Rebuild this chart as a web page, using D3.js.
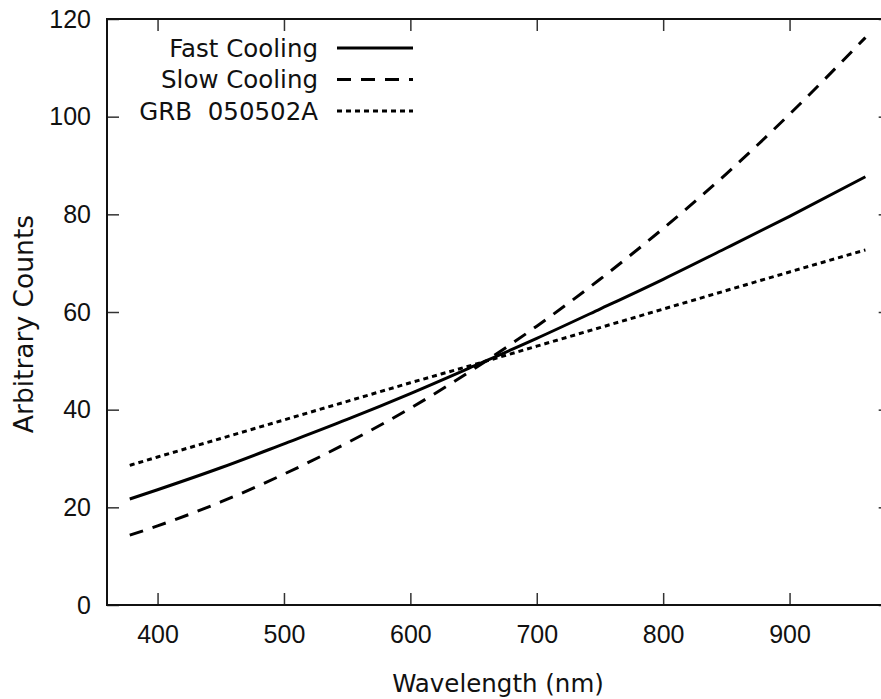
<!DOCTYPE html>
<html>
<head>
<meta charset="utf-8">
<script src="https://cdn.jsdelivr.net/npm/d3@7"></script>
<style>
  body { margin: 0; background: #fff; }
  svg { display: block; font-family: "DejaVu Sans", sans-serif; }
</style>
</head>
<body>
<div id="chart"></div>
<script>
// wavelength samples (nm) and values
const wavelength = [378, 400, 450, 500, 550, 600, 650, 700, 750, 800, 850, 900, 960]
const fastCooling = [21.7, 23.6, 28.1, 33.0, 38.0, 43.3, 48.9, 54.6, 60.6, 66.7, 73.1, 79.6, 87.7]
const slowCooling = [14.3, 16.2, 21.1, 26.8, 33.2, 40.3, 48.3, 57.1, 66.7, 77.1, 88.3, 100.5, 116.2]
const grb050502A = [28.6, 30.3, 34.1, 37.9, 41.7, 45.5, 49.2, 53.0, 56.8, 60.6, 64.4, 68.2, 72.7]

const xTicks = [400, 500, 600, 700, 800, 900]
const yTicks = [0, 20, 40, 60, 80, 100, 120]

const seriesNames = ["Fast Cooling", "Slow Cooling", "GRB  050502A"]
const seriesDash = [null, "14,10", "5,4"]

const W = 881, H = 699
const margin = {left: 107, top: 19}
const width = 620 * 1.264
const height = 586

const svg = d3.select("#chart").append("svg")
  .attr("width", W)
  .attr("height", H)

const g = svg.append("g")
  .attr("transform", "translate(" + margin.left + "," + margin.top + ")")

const x = d3.scaleLinear().domain([360, 980]).range([0, width])
const y = d3.scaleLinear().domain([0, 120]).range([height, 0])

// ticks on all four sides, pointing inward
const axBottom = g.append("g")
  .attr("transform", "translate(0," + height + ")")
  .call(d3.axisBottom(x).tickValues(xTicks).tickSize(-12).tickPadding(20))
const axTop = g.append("g")
  .call(d3.axisTop(x).tickValues(xTicks).tickSize(-12).tickFormat(""))
const axLeft = g.append("g")
  .call(d3.axisLeft(y).tickValues(yTicks).tickSize(-12).tickPadding(16))
const axRight = g.append("g")
  .attr("transform", "translate(" + width + ",0)")
  .call(d3.axisRight(y).tickValues(yTicks).tickSize(-12).tickFormat(""))

;[axBottom, axTop, axLeft, axRight].forEach(a => {
  a.select(".domain").remove()
  a.selectAll(".tick line").attr("stroke", "#333").attr("stroke-width", 1.5)
  a.selectAll("text").attr("fill", "#111").style("font-size", "25px")
})

// frame
g.append("rect")
  .attr("width", width)
  .attr("height", height)
  .attr("fill", "none")
  .attr("stroke", "#111")
  .attr("stroke-width", 2)

// lines
const allSeries = [fastCooling, slowCooling, grb050502A]
const line = d3.line()
  .curve(d3.curveMonotoneX)
  .x(d => x(d[0]))
  .y(d => y(d[1]))

allSeries.forEach((vals, i) => {
  g.append("path")
    .datum(wavelength.map((w, j) => [w, vals[j]]))
    .attr("fill", "none")
    .attr("stroke", "#000")
    .attr("stroke-width", 3)
    .attr("stroke-dasharray", seriesDash[i])
    .attr("d", line)
})

// legend
const legend = svg.append("g")
seriesNames.forEach((name, i) => {
  const ly = 48 + i * 31.5
  legend.append("text")
    .attr("x", 318)
    .attr("y", ly)
    .attr("dy", "0.36em")
    .attr("text-anchor", "end")
    .style("font-size", "24.5px")
    .style("white-space", "pre")
    .attr("fill", "#111")
    .text(name)
  legend.append("line")
    .attr("x1", 337)
    .attr("x2", 413)
    .attr("y1", ly)
    .attr("y2", ly)
    .attr("stroke", "#000")
    .attr("stroke-width", 3)
    .attr("stroke-dasharray", seriesDash[i])
})

// axis titles
svg.append("text")
  .attr("x", 498)
  .attr("y", 692)
  .attr("text-anchor", "middle")
  .style("font-size", "24.5px")
  .attr("fill", "#111")
  .text("Wavelength (nm)")

svg.append("text")
  .attr("transform", "translate(33,324) rotate(-90)")
  .attr("text-anchor", "middle")
  .style("font-size", "26.5px")
  .attr("fill", "#111")
  .text("Arbitrary Counts")
</script>
</body>
</html>
